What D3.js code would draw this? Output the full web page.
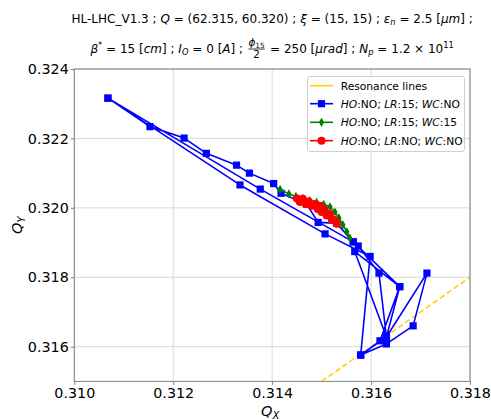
<!DOCTYPE html>
<html><head><meta charset="utf-8">
<script src="https://cdn.jsdelivr.net/npm/d3@7"></script>
<style>body{margin:0;background:#fff}svg{display:block}text{white-space:pre}</style>
</head><body><svg id="c" width="491" height="420"></svg>
<script>
// ---- data ----
const xTicks = [0.310, 0.312, 0.314, 0.316, 0.318];
const yTicks = [0.316, 0.318, 0.320, 0.322, 0.324];
const xDomain = [0.310, 0.318];
const yDomain = [0.315, 0.324];

const resonanceQx = [0.315, 0.318];
const resonanceQy = [0.315, 0.318];

const blueQx = [0.31068,0.31153,0.31222,0.31267,0.31328,0.31354,0.31403,0.31418,0.31470,0.31493,0.31530,0.31564,0.31574,0.31616,0.31631,0.31567,0.31658,0.31618,0.31579,0.31598,0.31507,0.31335,0.31068,0.31376,0.31564,0.31658,0.31631,0.31713,0.31685,0.31631,0.31579,0.31631];
const blueQy = [0.32316,0.32234,0.32201,0.32157,0.32123,0.32100,0.32070,0.32042,0.32010,0.31958,0.31956,0.31902,0.31890,0.31812,0.31628,0.31874,0.31773,0.31617,0.31576,0.31860,0.31925,0.32066,0.32316,0.32054,0.31902,0.31773,0.31628,0.31812,0.31660,0.31608,0.31576,0.31628];

const greenQx = [0.31416,0.31434,0.31448,0.31462,0.31476,0.31490,0.31504,0.31517,0.31527,0.31535,0.31543,0.31551,0.31557];
const greenQy = [0.32053,0.32040,0.32033,0.32027,0.32021,0.32016,0.32010,0.32003,0.31988,0.31971,0.31951,0.31931,0.31913];

const redQx = [0.31450,0.31456,0.31462,0.31468,0.31474,0.31480,0.31486,0.31492,0.31496,0.31500,0.31506,0.31510,0.31517,0.31521,0.31527,0.31531];
const redQy = [0.32027,0.32017,0.32026,0.32011,0.32018,0.32006,0.32011,0.31997,0.32006,0.31988,0.31995,0.31978,0.31982,0.31965,0.31965,0.31954];

const legendLabels = [
  [["Resonance lines", false]],
  [["HO", true], [":NO; ", false], ["LR", true], [":15; ", false], ["WC", true], [":NO", false]],
  [["HO", true], [":NO; ", false], ["LR", true], [":15; ", false], ["WC", true], [":15", false]],
  [["HO", true], [":NO; ", false], ["LR", true], [":NO; ", false], ["WC", true], [":NO", false]]
];

// ---- drawing ----
const FONT = "DejaVu Sans";
const svg = d3.select("#c");
const L = 74.3, R = 470, T = 69, B = 381.4;
const x = d3.scaleLinear().domain(xDomain).range([L, R]);
const y = d3.scaleLinear().domain(yDomain).range([B, T]);

// grid
const grid = svg.append("g");
grid.selectAll(".gx").data(xTicks).join("line")
  .attr("x1", d => x(d)).attr("x2", d => x(d)).attr("y1", T).attr("y2", B)
  .attr("stroke", "#d8d8d8").attr("stroke-width", 1);
grid.selectAll(".gy").data(yTicks).join("line")
  .attr("y1", d => y(d)).attr("y2", d => y(d)).attr("x1", L).attr("x2", R)
  .attr("stroke", "#d8d8d8").attr("stroke-width", 1);

// axes
const fmt = d3.format(".3f");
const gx = svg.append("g").attr("transform", `translate(0,${B})`)
  .call(d3.axisBottom(x).tickValues(xTicks).tickFormat(fmt).tickSize(3.5).tickPadding(3));
const gy = svg.append("g").attr("transform", `translate(${L},0)`)
  .call(d3.axisLeft(y).tickValues(yTicks).tickFormat(fmt).tickSize(3.5).tickPadding(2));
[gx, gy].forEach(g => {
  g.select(".domain").remove();
  g.selectAll(".tick line").attr("stroke", "#808080");
  g.selectAll(".tick text").attr("fill", "#000").attr("font-family", FONT).attr("font-size", 14.3);
});

// clip
svg.append("clipPath").attr("id", "clip").append("rect")
  .attr("x", L).attr("y", T).attr("width", R - L).attr("height", B - T);
const plot = svg.append("g").attr("clip-path", "url(#clip)");

// resonance
plot.append("path")
  .attr("d", d3.line()(resonanceQx.map((v, i) => [x(v), y(resonanceQy[i])])))
  .attr("stroke", "#ffd200").attr("stroke-width", 1.6).attr("stroke-dasharray", "5.5,3").attr("fill", "none");

function series(qx, qy, color, marker) {
  const pts = qx.map((v, i) => [x(v), y(qy[i])]);
  plot.append("path").attr("d", d3.line()(pts))
    .attr("stroke", color).attr("stroke-width", 1.6).attr("fill", "none").attr("stroke-linejoin", "round");
  drawMarkers(plot, pts, color, marker);
}
function drawMarkers(g, pts, color, marker) {
  if (marker === "s") {
    g.selectAll(null).data(pts).join("rect")
      .attr("x", d => d[0] - 3.6).attr("y", d => d[1] - 3.6).attr("width", 7.2).attr("height", 7.2).attr("fill", color);
  } else if (marker === "d") {
    g.selectAll(null).data(pts).join("path")
      .attr("d", d => `M${d[0]},${d[1]-4.6}L${d[0]+2.6},${d[1]}L${d[0]},${d[1]+4.6}L${d[0]-2.6},${d[1]}Z`).attr("fill", color);
  } else {
    g.selectAll(null).data(pts).join("circle")
      .attr("cx", d => d[0]).attr("cy", d => d[1]).attr("r", 4).attr("fill", color);
  }
}
series(blueQx, blueQy, "#0000ff", "s");
series(greenQx, greenQy, "#008000", "d");
series(redQx, redQy, "#ff0000", "o");

// spines
svg.append("rect").attr("x", L).attr("y", T).attr("width", R - L).attr("height", B - T)
  .attr("fill", "none").attr("stroke", "#808080").attr("stroke-width", 1);

// legend
const lg = svg.append("g");
lg.append("rect").attr("x", 307.5).attr("y", 76.5).attr("width", 157).attr("height", 75)
  .attr("rx", 2.5).attr("fill", "#fff").attr("fill-opacity", 0.8).attr("stroke", "#d0d0d0");
const legColors = ["#ffd200", "#0000ff", "#008000", "#ff0000"];
const legMarkers = [null, "s", "d", "o"];
const legY = [85.7, 103.7, 122.3, 140.7];
legendLabels.forEach((parts, i) => {
  const yy = legY[i];
  lg.append("line").attr("x1", 310).attr("x2", 333).attr("y1", yy).attr("y2", yy)
    .attr("stroke", legColors[i]).attr("stroke-width", 1.6);
  if (legMarkers[i]) drawMarkers(lg.append("g"), [[321.5, yy]], legColors[i], legMarkers[i]);
  const t = lg.append("text").attr("x", 340.7).attr("y", yy).attr("dy", "0.36em")
    .attr("font-family", FONT).attr("font-size", 10.7).attr("fill", "#000");
  parts.forEach(p => t.append("tspan").text(p[0]).attr("font-style", p[1] ? "italic" : "normal"));
});

// axis labels
svg.append("text").attr("x", (L + R) / 2 - 2).attr("y", 416).attr("text-anchor", "middle")
  .attr("font-family", FONT).attr("font-size", 14.5).call(t => {
    t.append("tspan").text("Q").attr("font-style", "italic");
    t.append("tspan").text("X").attr("font-style", "italic").attr("font-size", 10).attr("dy", 3);
  });
svg.append("text").attr("transform", `translate(22,${(T + B) / 2}) rotate(-90)`).attr("text-anchor", "middle")
  .attr("font-family", FONT).attr("font-size", 14.5).call(t => {
    t.append("tspan").text("Q").attr("font-style", "italic");
    t.append("tspan").text("Y").attr("font-style", "italic").attr("font-size", 10).attr("dy", 3);
  });

// title
const TFS = 12;
function segLine(parts, cy) {
  const g = svg.append("g");
  let cx = 0;
  parts.forEach(p => {
    const [txt, st] = p;
    if (st === "frac") {
      const FF = 10.5;
      const num = g.append("text").attr("y", cy - 6.8).attr("font-family", FONT).attr("font-size", FF).attr("text-anchor", "middle");
      num.append("tspan").text("ϕ").attr("font-style", "italic");
      num.append("tspan").text("15").attr("font-size", FF * 0.7).attr("dy", 1.5);
      const w = num.node().getComputedTextLength();
      const den = g.append("text").attr("y", cy + 5.2).attr("font-family", FONT).attr("font-size", FF).attr("text-anchor", "middle").text("2");
      const cxm = cx + w / 2 + 1.5;
      num.attr("x", cxm); den.attr("x", cxm);
      g.append("line").attr("x1", cx + 1.5).attr("x2", cx + w + 1.5).attr("y1", cy - 4).attr("y2", cy - 4)
        .attr("stroke", "#000").attr("stroke-width", 0.8);
      cx += w + 3;
      return;
    }
    const t = g.append("text").attr("x", cx).attr("y", cy).attr("font-family", FONT).attr("font-size", TFS).text(txt);
    if (st === "i") t.attr("font-style", "italic");
    if (st === "sub") t.attr("font-style", "italic").attr("font-size", TFS * 0.7).attr("y", cy + 2);
    if (st === "sup") t.attr("font-size", TFS * 0.7).attr("y", cy - 5);
    cx += t.node().getComputedTextLength();
  });
  const cxc = (L + R) / 2;
  g.attr("transform", `translate(${cxc - cx / 2},0)`);
}
segLine([
  ["HL-LHC_V1.3 ; ", "n"], ["Q", "i"], [" = (62.315, 60.320) ; ", "n"], ["ξ", "i"], [" = (15, 15) ; ", "n"],
  ["ε", "i"], ["n", "sub"], [" = 2.5 [", "n"], ["μm", "i"], ["] ;", "n"]
], 23);
segLine([
  ["β", "i"], ["*", "sup"], [" = 15 [", "n"], ["cm", "i"], ["] ; ", "n"], ["I", "i"], ["O", "sub"], [" = 0 [", "n"],
  ["A", "i"], ["] ; ", "n"], ["", "frac"], [" = 250 [", "n"], ["μrad", "i"], ["] ; ", "n"], ["N", "i"], ["p", "sub"],
  [" = 1.2 × 10", "n"], ["11", "sup"]
], 53);
</script></body></html>
